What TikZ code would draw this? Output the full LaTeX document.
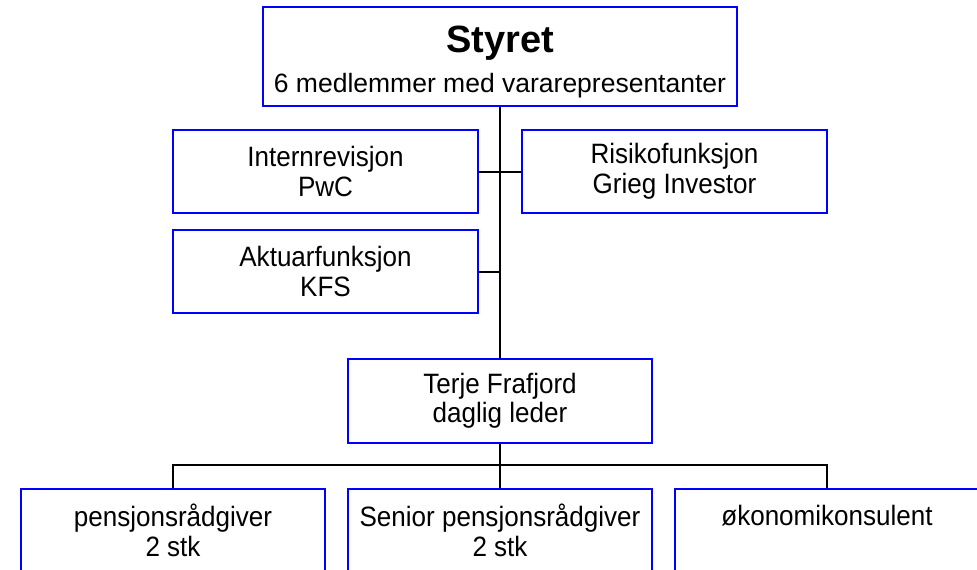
\documentclass[tikz,border=0pt]{standalone}
\usepackage{fontspec}
\setmainfont{Liberation Sans}
\newfontfamily\boxfont[FakeStretch=0.93]{Liberation Sans}
\usetikzlibrary{positioning}

\tikzset{
	orgbox/.style={draw=blue, line width=2pt, inner sep=0pt, align=center,
		minimum width=305pt, minimum height=83pt,
		font=\boxfont\fontsize{28}{29.5}\selectfont},
	orgline/.style={draw=black, line width=2pt}
}

\begin{document}
\begin{tikzpicture}[x=1pt,y=-1pt]
	\clip (0,0) rectangle (977,570);
	% board at the top
	\node[orgbox, minimum width=474pt, minimum height=99pt, font=\fontsize{26.5}{30}\selectfont] (styret) at (500,56.5)
		{{\fontsize{38}{40}\selectfont\bfseries\rule{0pt}{37pt}Styret}\\[10pt]6 medlemmer med vararepresentanter};
	\node[orgbox] (intern) at (325.5,171.5) {Internrevisjon\\PwC};
	\node[orgbox] (risiko) at (674.5,171.5) {Risikofunksjon\\Grieg Investor};
	\node[orgbox] (aktuar) at (325.5,271.5) {Aktuarfunksjon\\KFS};
	\node[orgbox, minimum width=304pt, minimum height=84pt] (leder) at (500,401) {Terje Frafjord\\daglig leder};
	% staff row, cut off at the page edge
	\node[orgbox, minimum width=304pt] (radgiver) at (173,530.5) {pensjonsrådgiver\\2 stk};
	\node[orgbox, minimum width=304pt] (senior) at (500,530.5) {Senior pensjonsrådgiver\\2 stk};
	\node[orgbox, minimum width=304pt] (okonomi) at (827,530.5) {økonomikonsulent\\\phantom{2 stk}};
	\coordinate (bus) at (500,465);
	% connectors
	\draw[orgline] (styret.south) -- (leder.north);
	\draw[orgline] (intern.east) -- (intern.east -| styret.south);
	\draw[orgline] (risiko.west) -- (risiko.west -| styret.south);
	\draw[orgline] (aktuar.east) -- (aktuar.east -| styret.south);
	\draw[orgline] (leder.south) -- (senior.north);
	\draw[orgline] (radgiver.north) |- (bus) -| (okonomi.north);
\end{tikzpicture}
\end{document}
